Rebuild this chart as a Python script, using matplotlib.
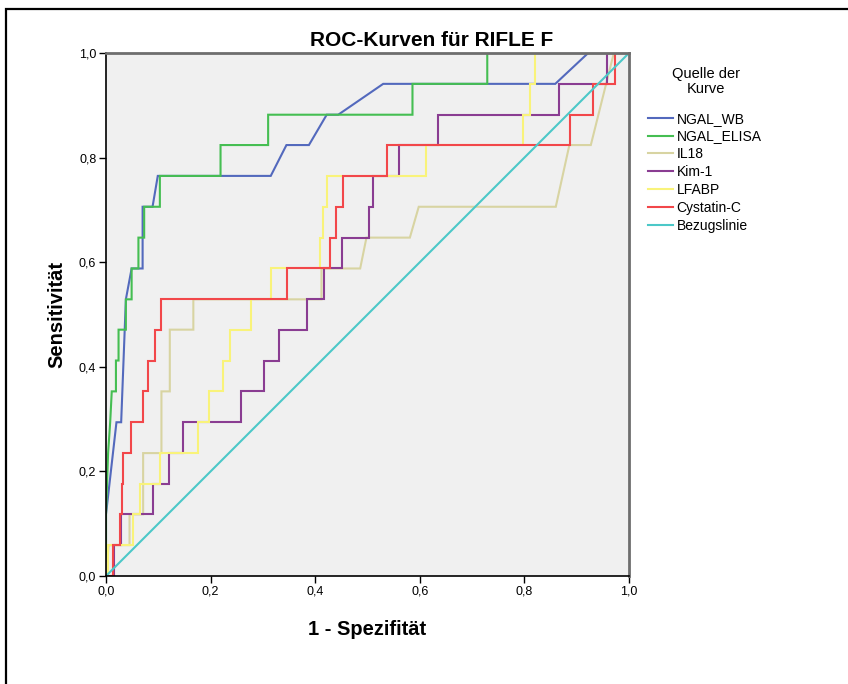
import matplotlib
matplotlib.use('Agg')
import matplotlib.pyplot as plt
from matplotlib.patches import Rectangle

# ROC-Kurven (1 - Spezifität, Sensitivität)
ngal_wb_x = [0, 0, 0.020, 0.029, 0.038, 0.049, 0.070, 0.070, 0.089, 0.099, 0.315, 0.345, 0.388, 0.422, 0.444, 0.530, 0.859, 0.922, 1.0]
ngal_wb_y = [0, 0.118, 0.294, 0.294, 0.529, 0.588, 0.588, 0.706, 0.706, 0.765, 0.765, 0.824, 0.824, 0.882, 0.882, 0.941, 0.941, 1.0, 1.0]

ngal_elisa_x = [0, 0, 0.004, 0.008, 0.011, 0.019, 0.019, 0.024, 0.024, 0.038, 0.038, 0.049, 0.049, 0.062,
                0.062, 0.073, 0.073, 0.103, 0.103, 0.219, 0.219, 0.310, 0.310, 0.586, 0.586, 0.729, 0.729, 1.0]
ngal_elisa_y = [0, 0.118, 0.235, 0.294, 0.353, 0.353, 0.412, 0.412, 0.471, 0.471, 0.529, 0.529, 0.588, 0.588,
                0.647, 0.647, 0.706, 0.706, 0.765, 0.765, 0.824, 0.824, 0.882, 0.882, 0.941, 0.941, 1.0, 1.0]

il18_x = [0, 0.005, 0.045, 0.045, 0.071, 0.071, 0.106, 0.106, 0.122, 0.122, 0.167, 0.167, 0.412, 0.412,
          0.486, 0.498, 0.581, 0.598, 0.860, 0.886, 0.927, 0.971, 1.0]
il18_y = [0, 0.059, 0.059, 0.118, 0.118, 0.235, 0.235, 0.353, 0.353, 0.471, 0.471, 0.529, 0.529, 0.588,
          0.588, 0.647, 0.647, 0.706, 0.706, 0.824, 0.824, 1.0, 1.0]

kim1_x = [0, 0.015, 0.015, 0.029, 0.029, 0.090, 0.090, 0.121, 0.121, 0.148, 0.148, 0.258, 0.258, 0.302,
          0.302, 0.331, 0.331, 0.384, 0.384, 0.417, 0.417, 0.451, 0.451, 0.503, 0.503, 0.510, 0.510, 0.561,
          0.561, 0.635, 0.635, 0.866, 0.866, 0.957, 0.957, 1.0]
kim1_y = [0, 0, 0.059, 0.059, 0.118, 0.118, 0.176, 0.176, 0.235, 0.235, 0.294, 0.294, 0.353, 0.353,
          0.412, 0.412, 0.471, 0.471, 0.529, 0.529, 0.588, 0.588, 0.647, 0.647, 0.706, 0.706, 0.765, 0.765,
          0.824, 0.824, 0.882, 0.882, 0.941, 0.941, 1.0, 1.0]

lfabp_x = [0, 0.003, 0.003, 0.051, 0.051, 0.065, 0.065, 0.103, 0.103, 0.175, 0.175, 0.196, 0.196, 0.224,
           0.224, 0.237, 0.237, 0.277, 0.277, 0.315, 0.315, 0.410, 0.410, 0.414, 0.414, 0.422, 0.422, 0.612,
           0.612, 0.797, 0.797, 0.811, 0.811, 0.820, 0.820, 1.0]
lfabp_y = [0, 0, 0.059, 0.059, 0.118, 0.118, 0.176, 0.176, 0.235, 0.235, 0.294, 0.294, 0.353, 0.353,
           0.412, 0.412, 0.471, 0.471, 0.529, 0.529, 0.588, 0.588, 0.647, 0.647, 0.706, 0.706, 0.765, 0.765,
           0.824, 0.824, 0.882, 0.882, 0.941, 0.941, 1.0, 1.0]

cystatin_x = [0, 0.013, 0.013, 0.027, 0.027, 0.030, 0.030, 0.032, 0.032, 0.047, 0.047, 0.071, 0.071, 0.081,
              0.081, 0.094, 0.094, 0.105, 0.105, 0.347, 0.347, 0.428, 0.428, 0.439, 0.439, 0.453, 0.453, 0.538,
              0.538, 0.888, 0.888, 0.932, 0.932, 0.973, 0.973, 1.0]
cystatin_y = [0, 0, 0.059, 0.059, 0.118, 0.118, 0.176, 0.176, 0.235, 0.235, 0.294, 0.294, 0.353, 0.353,
              0.412, 0.412, 0.471, 0.471, 0.529, 0.529, 0.588, 0.588, 0.647, 0.647, 0.706, 0.706, 0.765, 0.765,
              0.824, 0.824, 0.882, 0.882, 0.941, 0.941, 1.0, 1.0]

ref_x = [0, 1]
ref_y = [0, 1]

tick_values = [0.0, 0.2, 0.4, 0.6, 0.8, 1.0]
tick_labels = ['0,0', '0,2', '0,4', '0,6', '0,8', '1,0']

curves = [
    ('NGAL_WB', ngal_wb_x, ngal_wb_y, '#5369BD'),
    ('NGAL_ELISA', ngal_elisa_x, ngal_elisa_y, '#45BE52'),
    ('IL18', il18_x, il18_y, '#D8D4A2'),
    ('Kim-1', kim1_x, kim1_y, '#8A3D92'),
    ('LFABP', lfabp_x, lfabp_y, '#F9F37A'),
    ('Cystatin-C', cystatin_x, cystatin_y, '#F2474A'),
    ('Bezugslinie', ref_x, ref_y, '#4CC8C8'),
]

plt.rcParams['font.family'] = ['Liberation Sans', 'DejaVu Sans']

fig = plt.figure(figsize=(8.48, 6.84), dpi=100)
ax = fig.add_axes([106 / 848, 1 - 576 / 684, 523 / 848, 523 / 684])
ax.set_facecolor('#F0F0F0')

for name, xs, ys, col in curves:
    ax.plot(xs, ys, color=col, lw=1.5, label=name, solid_joinstyle='miter')

ax.set_xlim(0, 1)
ax.set_ylim(0, 1)
ax.set_xticks(tick_values, tick_labels, fontsize=9)
ax.set_yticks(tick_values, tick_labels, fontsize=9)
ax.tick_params(direction='out', length=5, width=1, pad=2)

for side in ['left', 'bottom']:
    ax.spines[side].set_color('black')
    ax.spines[side].set_linewidth(1.2)
for side in ['top', 'right']:
    ax.spines[side].set_color('#6E6E6E')
    ax.spines[side].set_linewidth(2)

# Titel über der ganzen Grafik zentriert
fig.text(432 / 848, 1 - 46 / 684, 'ROC-Kurven für RIFLE F', ha='center', va='baseline',
         fontsize=15, fontweight='bold')
ax.set_xlabel('1 - Spezifität', fontsize=14.5, fontweight='bold', labelpad=16)
ax.set_ylabel('Sensitivität', fontsize=14.5, fontweight='bold', labelpad=9)

fig.text(706 / 848, 1 - 81.5 / 684, 'Quelle der\nKurve', ha='center', va='center',
         fontsize=10.5, linespacing=1.15)
ax.legend(loc='upper left', bbox_to_anchor=(642 / 848, 1 - 106 / 684),
          bbox_transform=fig.transFigure, frameon=False, fontsize=10,
          handlelength=1.8, handletextpad=0.3, labelspacing=0.28, borderaxespad=0)

# äußerer Rahmen
fig.add_artist(Rectangle((6 / 848, -0.2), 1.2, 0.2 + (1 - 9 / 684), transform=fig.transFigure,
                         fill=False, edgecolor='black', lw=1.6))

fig.savefig('out.png', dpi=100)
